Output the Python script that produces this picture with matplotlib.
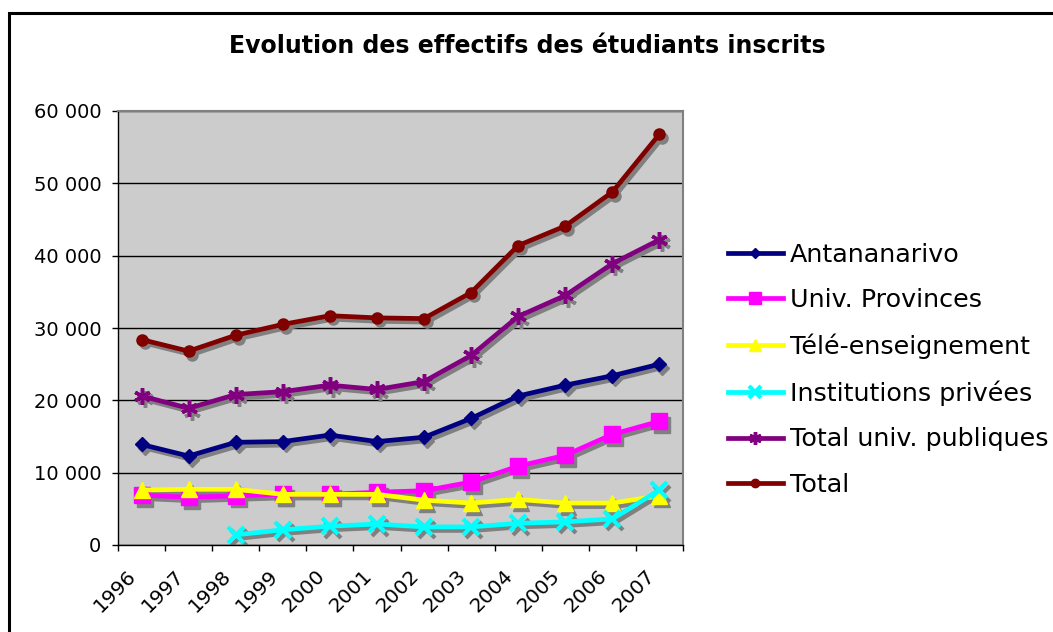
import matplotlib
matplotlib.use("Agg")
import matplotlib.pyplot as plt
import matplotlib.transforms as mtransforms
from matplotlib.lines import Line2D
from matplotlib.ticker import FuncFormatter, FixedLocator
import numpy as np

years = ["1996", "1997", "1998", "1999", "2000", "2001", "2002", "2003", "2004", "2005", "2006", "2007"]
antananarivo = [13900, 12300, 14200, 14300, 15200, 14300, 14900, 17500, 20600, 22100, 23400, 25000]
univ_provinces = [6900, 6600, 6800, 7000, 7000, 7300, 7500, 8700, 10900, 12400, 15300, 17100]
tele_enseignement = [7600, 7700, 7700, 7000, 7000, 7000, 6200, 5800, 6300, 5800, 5800, 6800]
institutions_privees = [np.nan, np.nan, 1400, 2100, 2600, 2900, 2500, 2500, 3000, 3200, 3600, 7600]
total_publiques = [20600, 18900, 20800, 21200, 22100, 21500, 22600, 26200, 31600, 34500, 38900, 42200]
total = [28400, 26800, 29000, 30500, 31700, 31400, 31300, 34900, 41400, 44100, 48800, 56800]

series_names = ["Antananarivo", "Univ. Provinces", "Télé-enseignement",
                "Institutions privées", "Total univ. publiques", "Total"]
series_values = [antananarivo, univ_provinces, tele_enseignement,
                 institutions_privees, total_publiques, total]
title = "Evolution des effectifs des étudiants inscrits"

W, H = 1053, 632
fig = plt.figure(figsize=(W / 100, H / 100), dpi=100)
fig.patch.set_facecolor("white")

ax = fig.add_axes([118 / W, 1 - 545 / H, (683 - 118) / W, (545 - 111) / H])
ax.set_facecolor("#CCCCCC")

styles = [
    dict(color="#000080", marker="D", ms=7, mew=1),
    dict(color="#FF00FF", marker="s", ms=11, mew=1),
    dict(color="#FFFF00", marker="^", ms=11, mew=1),
    dict(color="#00FFFF", marker="x", ms=11, mew=3),
    dict(color="#800080", marker=(6, 2, 0), ms=12, mew=2.5),
    dict(color="#800000", marker="o", ms=8, mew=1),
]

x = np.arange(len(years))
shadow_tr = mtransforms.offset_copy(ax.transData, fig=fig, x=3, y=-3.5, units="dots")
handles = []
for name, vals, st in zip(series_names, series_values, styles):
    ax.plot(x, vals, color="#808080", lw=3.4, marker=st["marker"], ms=st["ms"],
            mew=st["mew"], mfc="#808080", mec="#808080", transform=shadow_tr,
            zorder=2, solid_joinstyle="round")
    ln, = ax.plot(x, vals, color=st["color"], lw=3.4, marker=st["marker"], ms=st["ms"],
                  mew=st["mew"], mfc=st["color"], mec=st["color"], zorder=3,
                  label=name, solid_joinstyle="round")
    handles.append(ln)

ax.set_xlim(-0.5, len(years) - 0.5)
ax.set_ylim(0, 60000)
ax.yaxis.set_major_locator(FixedLocator(np.arange(0, 60001, 10000)))
ax.yaxis.set_major_formatter(FuncFormatter(lambda v, p: f"{int(v):,}".replace(",", " ")))
ax.grid(axis="y", color="black", lw=1)
ax.set_axisbelow(True)

ax.set_xticks(x)
ax.set_xticks(np.arange(-0.5, len(years), 1.0), minor=True)
ax.set_xticklabels(years, rotation=45, ha="right", va="center", rotation_mode="anchor",
                   fontsize=14.5)
ax.tick_params(axis="x", which="major", length=0, pad=20)
ax.tick_params(axis="x", which="minor", length=4, width=1, color="black", direction="out")
ax.tick_params(axis="y", which="major", length=4, width=1, color="black", direction="out",
               labelsize=14, pad=8)
for lab in ax.get_xticklabels():
    lab.set_transform(lab.get_transform() + mtransforms.ScaledTranslation(-8 / 100, 0, fig.dpi_scale_trans))

for side in ["left", "bottom"]:
    ax.spines[side].set_color("black")
    ax.spines[side].set_linewidth(1)
for side in ["top", "right"]:
    ax.spines[side].set_color("#808080")
    ax.spines[side].set_linewidth(1.5)

fig.text(527 / W, 1 - 53 / H, title, ha="center", va="baseline",
         fontsize=17, fontweight="bold", family="DejaVu Sans")

leg = fig.legend(handles=handles, loc="upper left",
                 bbox_to_anchor=(728 / W, 1 - 243 / H), frameon=False,
                 fontsize=18.3, handlelength=2.15, handletextpad=0.28,
                 labelspacing=0.84, borderpad=0, borderaxespad=0, markerscale=0.75)

# chart area border
fig.add_artist(Line2D([9 / W, 9 / W, 1.0], [0.0, 1 - 13 / H, 1 - 13 / H],
                      transform=fig.transFigure, color="black", lw=2.2,
                      solid_joinstyle="miter"))

fig.savefig("out.png", dpi=100)
